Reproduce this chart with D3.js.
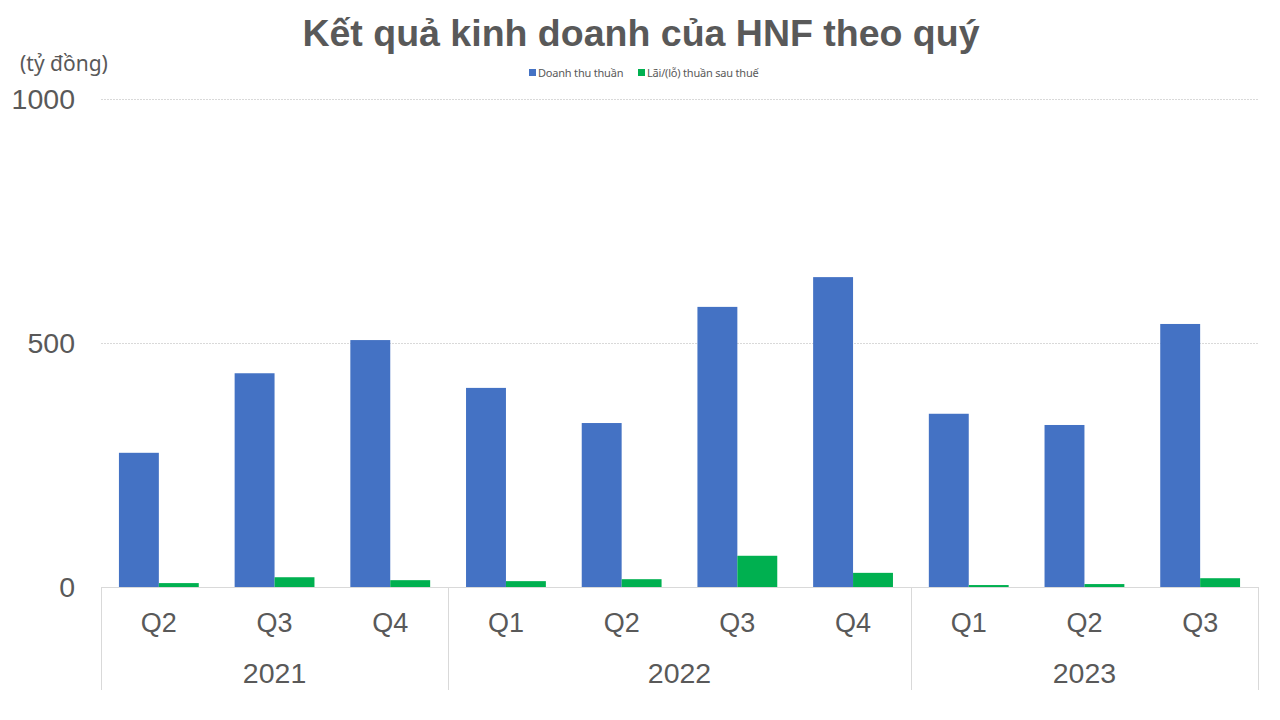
<!DOCTYPE html>
<html>
<head>
<meta charset="utf-8">
<script src="https://cdn.jsdelivr.net/npm/d3@7"></script>
<style>
body{margin:0;background:#fff;}
svg{display:block;}
</style>
</head>
<body>
<div id="chart"></div>
<script>
// data
const quarters = ["Q2","Q3","Q4","Q1","Q2","Q3","Q4","Q1","Q2","Q3"];
const years = [{name:"2021", n:3},{name:"2022", n:4},{name:"2023", n:3}];
const revenue = [275, 438, 506, 408, 336, 574, 635, 355, 332, 539];
const profit = [8, 20, 14, 12, 16, 64, 29, 4, 6, 18];
const seriesNames = ["Doanh thu thuần","Lãi/(lỗ) thuần sau thuế"];
const seriesColors = ["#4472c4","#00b050"];
const yTicks = [0, 500, 1000];

const width = 1280, height = 720;
const margin = {top: 99, right: 22, bottom: 133, left: 101};

let svg = d3.select("#chart").append("svg")
    .attr("width", width)
    .attr("height", height);

// title
svg.append("text")
    .attr("x", 641).attr("y", 46)
    .attr("text-anchor", "middle")
    .attr("font-family", "Liberation Sans, Arial, sans-serif")
    .attr("font-weight", "bold")
    .attr("font-size", 37.5)
    .attr("fill", "#595959")
    .text("Kết quả kinh doanh của HNF theo quý");

// unit label
svg.append("text")
    .attr("x", 20).attr("y", 71)
    .attr("font-family", "Noto Sans, sans-serif")
    .attr("font-size", 21)
    .attr("fill", "#595959")
    .text("(tỷ đồng)");

let plotW = width - margin.left - margin.right;
let baseY = height - margin.bottom;

let x = d3.scaleBand()
    .domain(d3.range(quarters.length))
    .range([margin.left, margin.left + plotW])
    .paddingInner(0.31)
    .paddingOuter(0.155);

let y = d3.scaleLinear()
    .domain([0, 1000])
    .range([baseY, margin.top]);

// gridlines
svg.append("g").selectAll("line").data(yTicks.filter(d => d > 0))
    .enter().append("line")
    .attr("x1", margin.left).attr("x2", margin.left + plotW)
    .attr("y1", d => y(d) + 0.5).attr("y2", d => y(d) + 0.5)
    .attr("stroke", "#d9d9d9")
    .attr("stroke-dasharray", "2,1");

// y labels
let yAxis = d3.axisLeft(y).tickValues(yTicks).tickFormat(d3.format("d")).tickSize(0).tickPadding(26);
let gy = svg.append("g")
    .attr("transform", `translate(${margin.left},0)`)
    .call(yAxis);
gy.select(".domain").remove();
gy.selectAll("text")
    .attr("font-family", "Liberation Sans, Arial, sans-serif")
    .attr("font-size", 28.5)
    .attr("fill", "#595959");

// bars
let sub = d3.scaleBand().domain([0,1]).range([0, x.bandwidth()]);
let series = [revenue, profit];
series.forEach(function(vals, s){
    svg.append("g").selectAll("rect").data(vals)
        .enter().append("rect")
        .attr("x", (d,i) => x(i) + sub(s))
        .attr("y", d => y(d))
        .attr("width", sub.bandwidth())
        .attr("height", d => baseY - y(d))
        .attr("fill", seriesColors[s]);
});

// category axis
let step = x.step();
let xStart = margin.left;
svg.append("line")
    .attr("x1", xStart).attr("x2", xStart + plotW)
    .attr("y1", baseY + 0.5).attr("y2", baseY + 0.5)
    .attr("stroke", "#d9d9d9");

svg.append("g").selectAll("text").data(quarters)
    .enter().append("text")
    .attr("x", (d,i) => x(i) + x.bandwidth()/2)
    .attr("y", baseY + 45)
    .attr("text-anchor", "middle")
    .attr("font-family", "Liberation Sans, Arial, sans-serif")
    .attr("font-size", 27)
    .attr("fill", "#595959")
    .text(d => d);

let acc = 0;
let bounds = [0];
years.forEach(function(yr){ acc += yr.n; bounds.push(acc); });
svg.append("g").selectAll("line").data(bounds)
    .enter().append("line")
    .attr("x1", d => Math.round(xStart + d*step) + 0.5)
    .attr("x2", d => Math.round(xStart + d*step) + 0.5)
    .attr("y1", baseY).attr("y2", baseY + 103)
    .attr("stroke", "#d9d9d9");

svg.append("g").selectAll("text").data(years)
    .enter().append("text")
    .attr("x", (d,i) => xStart + (bounds[i] + d.n/2)*step)
    .attr("y", baseY + 96)
    .attr("text-anchor", "middle")
    .attr("font-family", "Liberation Sans, Arial, sans-serif")
    .attr("font-size", 28.5)
    .attr("fill", "#595959")
    .text(d => d.name);

// legend
let legend = svg.append("g").attr("transform", "translate(529,68)");
let lx = [0, 109];
seriesNames.forEach(function(n, i){
    let g = legend.append("g").attr("transform", `translate(${lx[i]},0)`);
    g.append("rect").attr("width", 7).attr("height", 7).attr("y", 1).attr("fill", seriesColors[i]);
    g.append("text").attr("x", 9).attr("y", 8.5)
        .attr("font-family", "Noto Sans, sans-serif")
        .attr("font-size", 11)
        .attr("letter-spacing", -0.2)
        .attr("fill", "#595959")
        .text(n);
});
</script>
</body>
</html>
